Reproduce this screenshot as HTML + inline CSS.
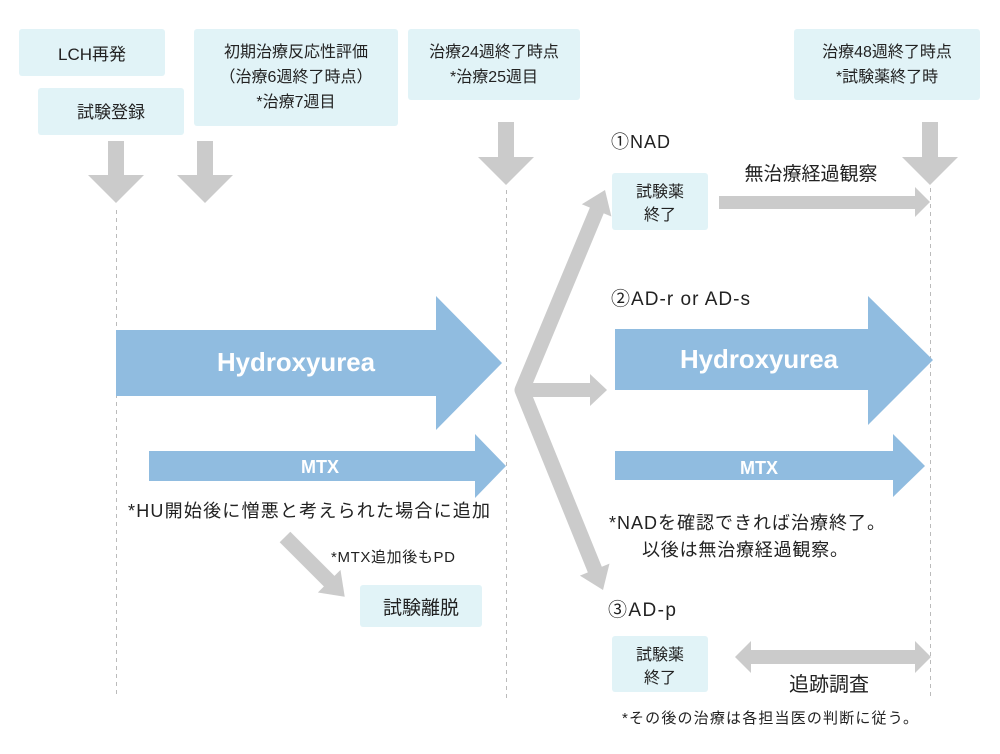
<!DOCTYPE html>
<html><head><meta charset="utf-8"><style>
html,body{margin:0;padding:0;background:#fff;}
svg{display:block;}
text{font-family:"Liberation Sans","Noto Sans CJK JP",sans-serif;fill:#222;}
.b{fill:#e1f3f7;}
.g{fill:#cbcbcb;}
.bl{fill:#90bce0;}
.w{fill:#fff;font-weight:bold;}
.d{stroke:#bbb;stroke-width:1;stroke-dasharray:4,4;fill:none;}
</style></head><body>
<svg width="1000" height="754" viewBox="0 0 1000 754" xmlns="http://www.w3.org/2000/svg">
<defs>
<marker id="ah" markerUnits="userSpaceOnUse" markerWidth="34" markerHeight="34" refX="4" refY="17" orient="auto" viewBox="0 0 34 34">
<path d="M0,1 L22,17 L0,33 Z" fill="#cbcbcb"/>
</marker>
</defs>
<line class="d" x1="116.5" y1="210" x2="116.5" y2="698"/>
<line class="d" x1="506.5" y1="190" x2="506.5" y2="698"/>
<line class="d" x1="930.5" y1="188" x2="930.5" y2="698"/>

<rect class="b" x="19" y="29" width="146" height="47" rx="3"/>
<text x="92" y="60" font-size="17" text-anchor="middle">LCH再発</text>
<rect class="b" x="38" y="88" width="146" height="47" rx="3"/>
<text x="111" y="118" font-size="17" text-anchor="middle">試験登録</text>
<rect class="b" x="194" y="29" width="204" height="97" rx="3"/>
<text x="296" y="57" font-size="16" text-anchor="middle">初期治療反応性評価</text>
<text x="296" y="82" font-size="16" text-anchor="middle">（治療6週終了時点）</text>
<text x="296" y="107" font-size="16" text-anchor="middle">*治療7週目</text>
<rect class="b" x="408" y="29" width="172" height="71" rx="3"/>
<text x="494" y="57" font-size="16" text-anchor="middle">治療24週終了時点</text>
<text x="494" y="82" font-size="16" text-anchor="middle">*治療25週目</text>
<rect class="b" x="794" y="29" width="186" height="71" rx="3"/>
<text x="887" y="57" font-size="16" text-anchor="middle">治療48週終了時点</text>
<text x="887" y="82" font-size="16" text-anchor="middle">*試験薬終了時</text>

<path class="g" d="M108,141 H124 V175 H144 L116,203 L88,175 H108 Z"/>
<path class="g" d="M197,141 H213 V175 H233 L205,203 L177,175 H197 Z"/>
<path class="g" d="M498,122 H514 V157 H534 L506,185 L478,157 H498 Z"/>
<path class="g" d="M922,122 H938 V157 H958 L930,185 L902,157 H922 Z"/>

<path class="bl" d="M116,330 H436 V296 L502,363 L436,430 V396 H116 Z"/>
<text class="w" x="296" y="371" font-size="26" text-anchor="middle" textLength="158" lengthAdjust="spacingAndGlyphs">Hydroxyurea</text>
<path class="bl" d="M149,451 H475 V434 L506,466 L475,498 V481 H149 Z"/>
<text class="w" x="320" y="473" font-size="18" text-anchor="middle">MTX</text>
<text x="309" y="517" font-size="18" text-anchor="middle" textLength="362">*HU開始後に憎悪と考えられた場合に追加</text>

<line x1="285" y1="537" x2="332" y2="584" stroke="#cbcbcb" stroke-width="15" marker-end="url(#ah)"/>
<text x="331" y="562" font-size="15" textLength="124">*MTX追加後もPD</text>
<rect class="b" x="360" y="585" width="122" height="42" rx="3"/>
<text x="421" y="614" font-size="19" text-anchor="middle">試験離脱</text>

<polyline points="597,210 522,390 595,570" fill="none" stroke="#cbcbcb" stroke-width="15" stroke-linejoin="round"/>
<path class="g" d="M605,190 L611.4,216.5 L581.8,204.3 Z"/>
<path class="g" d="M603,590 L609.5,563.6 L579.9,575.6 Z"/>
<path class="g" d="M525,383 H590 V374 L607,390 L590,406 V397 H525 Z"/>

<text x="611" y="148" font-size="18" textLength="59">①NAD</text>
<rect class="b" x="612" y="173" width="96" height="57" rx="3"/>
<text x="660" y="197" font-size="16" text-anchor="middle">試験薬</text>
<text x="660" y="220" font-size="16" text-anchor="middle">終了</text>
<text x="811" y="180" font-size="19" text-anchor="middle">無治療経過観察</text>
<path class="g" d="M719,196 H915 V187 L930,202 L915,217 V209 H719 Z"/>

<text x="611" y="305" font-size="19" textLength="139">②AD-r or AD-s</text>
<path class="bl" d="M615,329 H868 V296 L933,360 L868,425 V390 H615 Z"/>
<text class="w" x="759" y="368" font-size="26" text-anchor="middle" textLength="158" lengthAdjust="spacingAndGlyphs">Hydroxyurea</text>
<path class="bl" d="M615,451 H893 V434 L925,466 L893,497 V480 H615 Z"/>
<text class="w" x="759" y="474" font-size="18" text-anchor="middle">MTX</text>
<text x="609" y="529" font-size="18" textLength="276">*NADを確認できれば治療終了。</text>
<text x="642" y="556" font-size="18" textLength="206">以後は無治療経過観察。</text>

<text x="608" y="616" font-size="19" textLength="68">③AD-p</text>
<rect class="b" x="612" y="636" width="96" height="56" rx="3"/>
<text x="660" y="660" font-size="16" text-anchor="middle">試験薬</text>
<text x="660" y="683" font-size="16" text-anchor="middle">終了</text>
<path class="g" d="M735,657 L751,641 V650 H915 V641 L931,657 L915,673 V664 H751 V673 Z"/>
<text x="829" y="691" font-size="20" text-anchor="middle">追跡調査</text>
<text x="770" y="723" font-size="15" text-anchor="middle" textLength="296">*その後の治療は各担当医の判断に従う。</text>
</svg>
</body></html>
